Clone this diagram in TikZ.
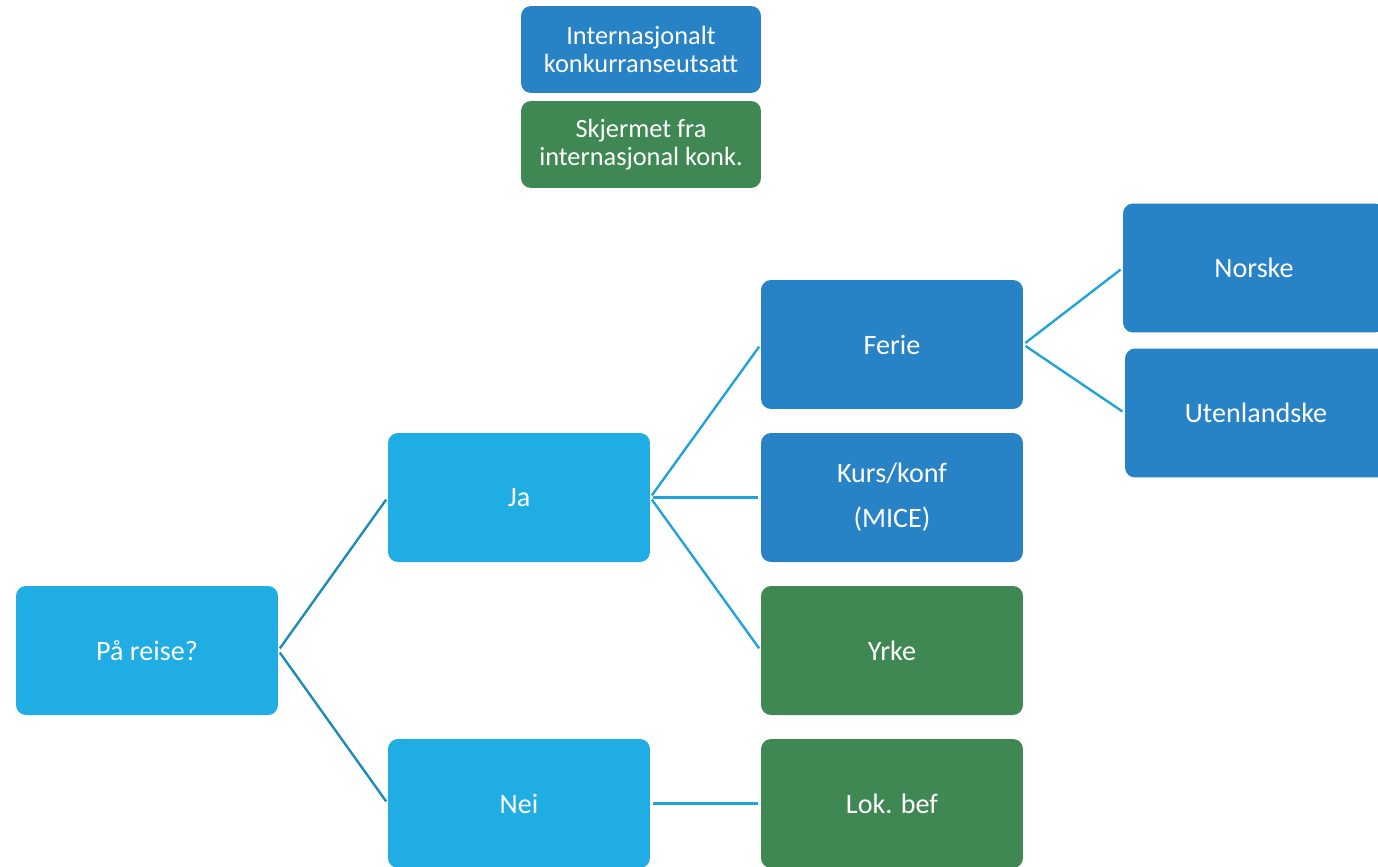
\documentclass[tikz,border=0pt]{standalone}
\usepackage{fontspec}
\setmainfont{Carlito}
\definecolor{reiseblue}{HTML}{1FADE3}
\definecolor{konkblue}{HTML}{2882C6}
\definecolor{skjermgreen}{HTML}{3F8854}
\definecolor{linedark}{HTML}{1A8CBA}
\definecolor{linelight}{HTML}{1FA3D9}

\tikzset{
 treebox/.style={rounded corners=0.2cm, minimum width=5.24cm, minimum height=2.58cm,
   inner sep=0pt, text=white, align=center, font=\fontsize{16}{19}\selectfont},
 legendbox/.style={treebox, minimum width=4.8cm, minimum height=1.74cm,
   font=\fontsize{15}{16}\selectfont},
 conn/.style={line width=1.35pt, shorten <=1.5pt, shorten >=1.5pt},
}

\begin{document}
\begin{tikzpicture}[x=0.02cm,y=-0.02cm]
   \useasboundingbox (0,0) rectangle (1378,866);
   \clip (0,0) rectangle (1378,866);
   % legend
   \node[legendbox,fill=konkblue] (legkonk) at (641,49.5) {Internasjonalt\\konkurranseutsatt};
   \node[legendbox,fill=skjermgreen] (legskjerm) at (641,144.5) {Skjermet fra\\internasjonal konk.};
   % tree
   \node[treebox,fill=reiseblue] (reise) at (147,650.5) {På reise?};
   \node[treebox,fill=reiseblue] (ja) at (519,497.5) {Ja};
   \node[treebox,fill=reiseblue] (nei) at (519,803.5) {Nei};
   \node[treebox,fill=konkblue] (ferie) at (892,344.5) {Ferie};
   \node[treebox,fill=konkblue] (kurs) at (892,497.5) {Kurs/konf\\[6.5pt](MICE)};
   \node[treebox,fill=skjermgreen] (yrke) at (892,650.5) {Yrke};
   \node[treebox,fill=skjermgreen] (lok) at (892,803.5) {Lok. bef};
   \node[treebox,fill=konkblue] (norske) at (1254,268) {Norske};
   \node[treebox,fill=konkblue] (utland) at (1256,413) {Utenlandske};
   % connectors
   \draw[conn,linedark] (reise.east) -- (ja.west);
   \draw[conn,linedark] (reise.east) -- (nei.west);
   \draw[conn,linelight] (ja.east) -- (ferie.west);
   \draw[conn,linelight] (ja.east) -- (kurs.west);
   \draw[conn,linelight] (ja.east) -- (yrke.west);
   \draw[conn,linelight] (nei.east) -- (lok.west);
   \draw[conn,linelight] (ferie.east) -- (norske.west);
   \draw[conn,linelight] (ferie.east) -- (utland.west);
\end{tikzpicture}
\end{document}
